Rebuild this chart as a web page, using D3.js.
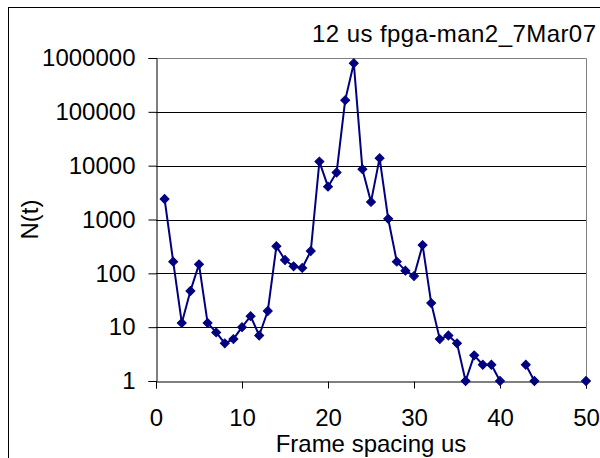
<!DOCTYPE html>
<html>
<head>
<meta charset="utf-8">
<script src="https://cdn.jsdelivr.net/npm/d3@7"></script>
<style>
  html, body { margin: 0; padding: 0; background: #fff; }
  svg { display: block; font-family: "Liberation Sans", Arial, sans-serif; }
</style>
</head>
<body>
<svg id="chart" width="600" height="458"></svg>
<script>
// Frame spacing (us) and histogram counts; null = no entries in that bin
const frameSpacing = [1, 2, 3, 4, 5, 6, 7, 8, 9, 10,
                      11, 12, 13, 14, 15, 16, 17, 18, 19, 20,
                      21, 22, 23, 24, 25, 26, 27, 28, 29, 30,
                      31, 32, 33, 34, 35, 36, 37, 38, 39, 40,
                      41, 42, 43, 44, 45, 46, 47, 48, 49, 50];
const counts = [2400, 165, 12, 47, 147, 12, 8, 5, 6, 10,
                16, 7, 20, 318, 177, 135, 126, 260, 11900, 4070,
                7450, 165000, 800000, 8600, 2120, 13800, 1030, 165, 112, 89,
                335, 28, 6, 7, 5, 1, 3, 2, 2, 1,
                null, null, 2, 1, null, null, null, null, null, 1];

const xTicks = [0, 10, 20, 30, 40, 50];
const yTicks = [1, 10, 100, 1000, 10000, 100000, 1000000];
const yTickLabels = ["1", "10", "100", "1000", "10000", "100000", "1000000"];

const title = "12 us fpga-man2_7Mar07";
const xTitle = "Frame spacing us";
const yTitle = "N(t)";

const svg = d3.select("#chart");
const plot = { left: 156, right: 586, top: 58, bottom: 381 };
const navy = "#000080";
const fontSize = 24;

const x = d3.scaleLinear().domain([0, 50]).range([plot.left, plot.right]);
const y = d3.scaleLog().domain([1, 1000000]).range([plot.bottom, plot.top]);

// outer chart frame
svg.append("rect")
  .attr("x", 8.5).attr("y", 7.5)
  .attr("width", 620).attr("height", 480)
  .attr("fill", "none").attr("stroke", "#000").attr("stroke-width", 1);

// plot-area border (top and right)
svg.append("path")
  .attr("d", `M${plot.left},${plot.top + 0.5}H${plot.right + 0.5}V${plot.bottom}`)
  .attr("fill", "none").attr("stroke", "#808080").attr("stroke-width", 1);

// horizontal gridlines at each decade
svg.append("g")
  .selectAll("line")
  .data(yTicks.slice(1, -1))
  .join("line")
  .attr("x1", plot.left).attr("x2", plot.right)
  .attr("y1", d => Math.round(y(d)) + 0.5).attr("y2", d => Math.round(y(d)) + 0.5)
  .attr("stroke", "#000").attr("stroke-width", 1);

// y axis
const yAxis = d3.axisLeft(y)
  .tickValues(yTicks)
  .tickFormat((d, i) => yTickLabels[i])
  .tickSize(8)
  .tickPadding(13);
const gy = svg.append("g")
  .attr("transform", `translate(${plot.left + 0.5},0)`)
  .call(yAxis);
gy.select(".domain").attr("stroke", "#000");
gy.selectAll(".tick line").attr("stroke", "#000");
gy.selectAll(".tick text")
  .attr("font-size", fontSize).attr("fill", "#000")
  .attr("font-family", "Liberation Sans, Arial, sans-serif");

// x axis
const xAxis = d3.axisBottom(x)
  .tickValues(xTicks)
  .tickFormat(d3.format("d"))
  .tickSize(7)
  .tickPadding(20);
const gx = svg.append("g")
  .attr("transform", `translate(0,${plot.bottom + 0.5})`)
  .call(xAxis);
gx.select(".domain").attr("stroke", "#000");
gx.selectAll(".tick line").attr("stroke", "#000");
gx.selectAll(".tick text")
  .attr("font-size", fontSize).attr("fill", "#000")
  .attr("font-family", "Liberation Sans, Arial, sans-serif");

// series line (broken where bins are empty)
const points = frameSpacing.map((f, i) => ({ f, n: counts[i] }));
const line = d3.line()
  .defined(d => d.n != null)
  .x(d => x(d.f))
  .y(d => y(d.n));
svg.append("path")
  .datum(points)
  .attr("d", line)
  .attr("fill", "none")
  .attr("stroke", navy)
  .attr("stroke-width", 2)
  .attr("stroke-linejoin", "round");

// diamond markers
const diamond = d3.symbol().type(d3.symbolSquare).size(40);
svg.append("g")
  .selectAll("path")
  .data(points.filter(d => d.n != null))
  .join("path")
  .attr("d", diamond)
  .attr("transform", d => `translate(${x(d.f)},${y(d.n)}) rotate(45)`)
  .attr("fill", navy)
  .attr("stroke", navy)
  .attr("stroke-width", 1);

// titles
svg.append("text")
  .attr("x", 312).attr("y", 42)
  .attr("text-anchor", "start")
  .attr("font-size", fontSize)
  .attr("textLength", 284)
  .attr("lengthAdjust", "spacing")
  .text(title);

svg.append("text")
  .attr("x", (plot.left + plot.right) / 2).attr("y", 452)
  .attr("text-anchor", "middle")
  .attr("font-size", fontSize)
  .text(xTitle);

svg.append("text")
  .attr("transform", `translate(38,${(plot.top + plot.bottom) / 2}) rotate(-90)`)
  .attr("text-anchor", "middle")
  .attr("font-size", fontSize)
  .text(yTitle);
</script>
</body>
</html>
